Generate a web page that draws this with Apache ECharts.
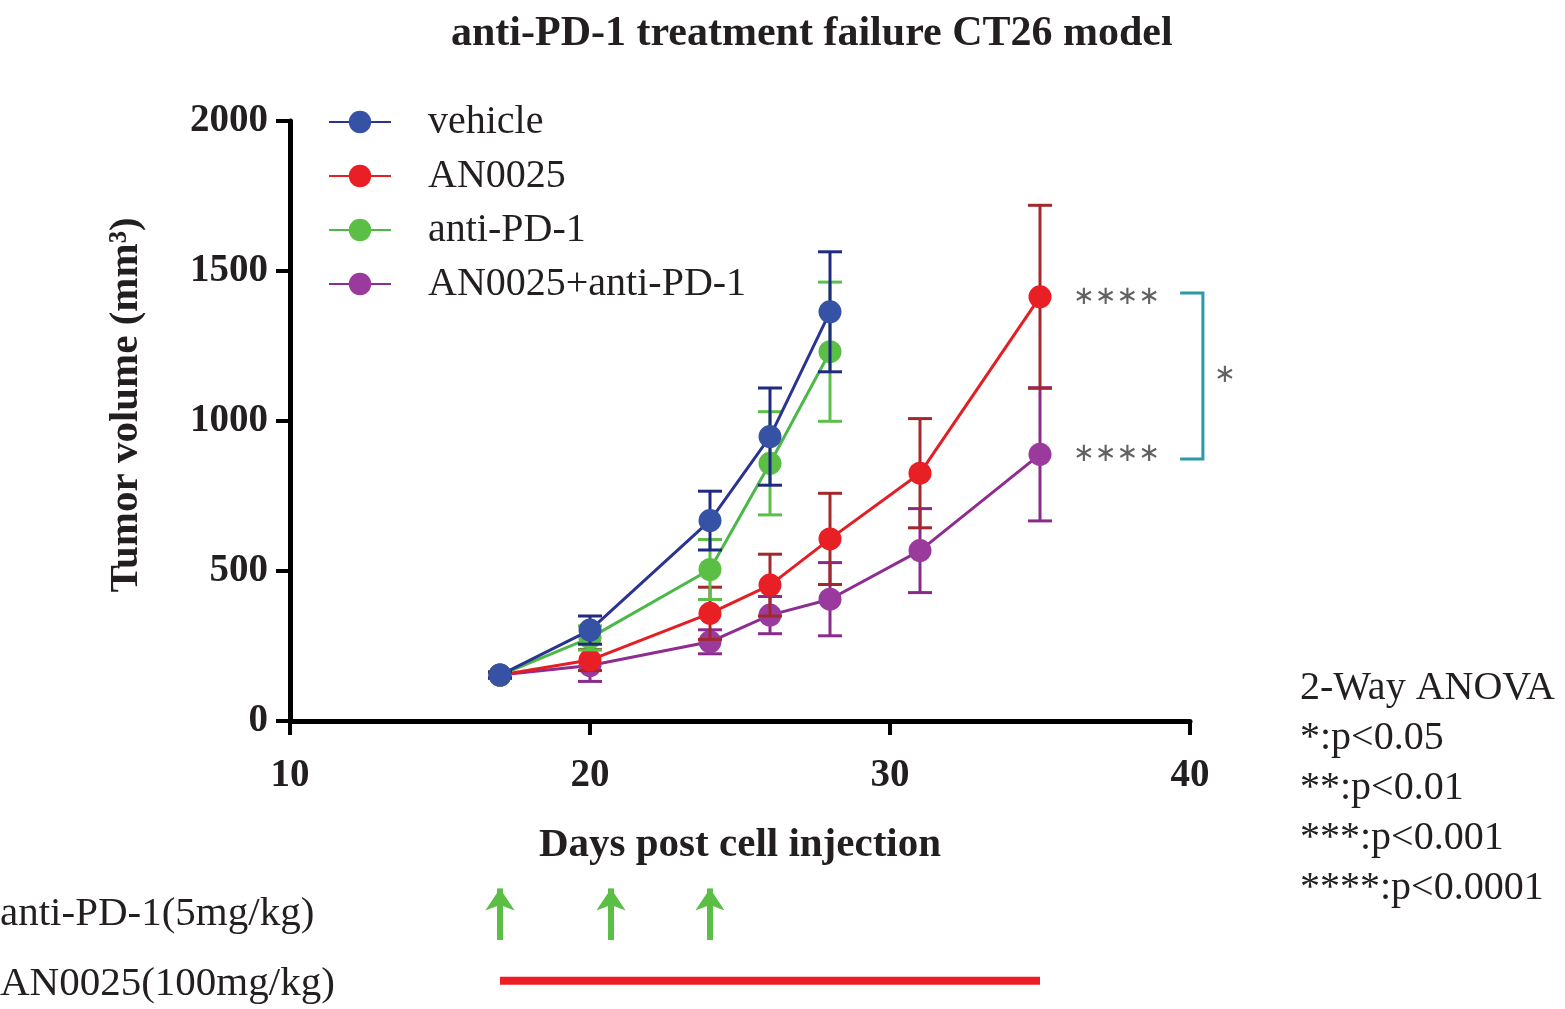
<!DOCTYPE html>
<html><head><meta charset="utf-8">
<script src="https://cdn.jsdelivr.net/npm/echarts@6/dist/echarts.min.js"></script>
<style>html,body{margin:0;padding:0;background:#fff}#c{width:1565px;height:1009px}</style>
</head><body><div id="c"></div>
<script>
const SERIF = '"Liberation Serif","Times New Roman",serif';
const TXT = '#231f20';
const seriesNames = ['vehicle','AN0025','anti-PD-1','AN0025+anti-PD-1'];
const daysShort = [17,20,24,26,28];
const daysLong = [17,20,24,26,28,31,35];
const vehicleMean = [153,303,668,948,1364];
const vehicleSD = [10,47,98,162,200];
const an0025Mean = [153,203,359,453,607,826,1414];
const an0025SD = [10,35,87,103,152,182,305];
const antiPD1Mean = [153,277,505,859,1231];
const antiPD1SD = [10,40,100,172,232];
const comboMean = [153,185,264,353,406,568,889];
const comboSD = [10,53,40,62,122,140,222];
const xTicks = [10,20,30,40];
const yTicks = [0,500,1000,1500,2000];
const arrowDays = [17,20.7,24];
const an0025Period = [17,35];
const stars = [[36.1,1414,'∗∗∗∗'],[36.1,889,'∗∗∗∗']];
const bracket = [39.67,40.43,1427,873];
const bracketLabel = [40.8,1153,'∗'];
const anovaLines = ['2-Way ANOVA','*:p<0.05','**:p<0.01','***:p<0.001','****:p<0.0001'];

const lineColors = ['#2b3490','#e31e24','#4cb848','#8e2c8f'];
const markerColors = ['#3652a5','#e81f25','#5bbf46','#9a3a9c'];
const errColors = ['#1f2a80','#a3282c','#5cbf4a','#8a2b8c'];

function pairs(days, vals){ return days.map((d,i)=>[d, vals[i]]); }
function errData(days, m, sd){ return days.map((d,i)=>[d, m[i]-sd[i], m[i]+sd[i]]); }
function errRender(color){
  return function(params, api){
    const x = api.value(0), lo = api.value(1), hi = api.value(2);
    const a = api.coord([x, hi]), b = api.coord([x, lo]);
    const w = 12, st = {stroke: color, lineWidth: 3};
    return {type:'group', children:[
      {type:'line', shape:{x1:a[0],y1:a[1],x2:b[0],y2:b[1]}, style:st},
      {type:'line', shape:{x1:a[0]-w,y1:a[1],x2:a[0]+w,y2:a[1]}, style:st},
      {type:'line', shape:{x1:b[0]-w,y1:b[1],x2:b[0]+w,y2:b[1]}, style:st}
    ]};
  };
}
const groups = [
  [daysShort, vehicleMean, vehicleSD],
  [daysLong, an0025Mean, an0025SD],
  [daysShort, antiPD1Mean, antiPD1SD],
  [daysLong, comboMean, comboSD]
];
const zOrder = [8,6,7,5];
const series = [];
groups.forEach((g,i)=>{
  series.push({
    name: seriesNames[i]+' err', type:'custom', xAxisIndex:0, yAxisIndex:0,
    renderItem: errRender(errColors[i]), data: errData(g[0],g[1],g[2]),
    encode:{x:0,y:[1,2]}, z: zOrder[i], silent:true
  });
  series.push({
    name: seriesNames[i], type:'line', xAxisIndex:0, yAxisIndex:0,
    data: pairs(g[0], g[1]), symbol:'circle', symbolSize:23,
    lineStyle:{color: lineColors[i], width:3},
    itemStyle:{color: markerColors[i]}, z: zOrder[i]+0.5, animation:false
  });
});
const starLabel = {show:true, position:'right', distance:0, fontFamily:'"DejaVu Sans",sans-serif', fontSize:26, color:'#3a3a3a', verticalAlign:'middle'};
// significance stars
series.push({
  type:'scatter', xAxisIndex:0, yAxisIndex:0, symbolSize:0, silent:true, z:10, clip:false,
  data: stars.concat([bracketLabel]).map(s=>({value:[s[0],s[1]], label:{formatter:s[2]}})),
  label: starLabel
});
// bracket
series.push({
  type:'custom', xAxisIndex:0, yAxisIndex:0, silent:true, z:10, clip:false,
  data:[bracket],
  renderItem: function(p, api){
    const a = api.coord([api.value(0), api.value(2)]);
    const b = api.coord([api.value(1), api.value(3)]);
    return {type:'polyline', shape:{points:[[a[0],a[1]],[b[0],a[1]],[b[0],b[1]],[a[0],b[1]]]}, style:{stroke:'#2a9aa8', lineWidth:3, fill:null}};
  },
  encode:{x:[0,1], y:[2,3]}
});
// treatment arrows
series.push({
  type:'lines', coordinateSystem:'cartesian2d', xAxisIndex:1, yAxisIndex:1, silent:true,
  symbol:['none','arrow'], symbolSize:[0,22],
  lineStyle:{color:'#5bbf46', width:6, opacity:1},
  data: arrowDays.map(d=>({coords:[[d,5],[d,9.3]]}))
});
series.push({
  type:'line', xAxisIndex:1, yAxisIndex:1, silent:true, symbol:'none',
  lineStyle:{color:'#ee1c25', width:8},
  data: an0025Period.map(d=>[d,1.6])
});

const axisLbl = {fontFamily:SERIF, fontWeight:'bold', fontSize:39, color:TXT};
const option = {
  animation:false,
  backgroundColor:'#fff',
  title:{text:'anti-PD-1 treatment failure CT26 model', left:446, top:8,
    textStyle:{fontFamily:SERIF, fontWeight:'bold', fontSize:42, color:TXT}},
  legend:{
    data: seriesNames, orient:'vertical', left:323, top:97,
    itemWidth:62, itemHeight:28, itemGap:14,
    textStyle:{fontFamily:SERIF, fontSize:40, color:TXT, padding:[0,0,0,32]}
  },
  grid:[
    {left:290, right:375, top:121, bottom:288},
    {left:290, right:375, top:880, bottom:9}
  ],
  xAxis:[
    {type:'value', gridIndex:0, min:10, max:40, interval:10,
     name:'Days post cell injection', nameLocation:'middle', nameGap:104,
     nameTextStyle:{fontFamily:SERIF, fontWeight:'bold', fontSize:41, color:TXT},
     axisLine:{lineStyle:{color:'#000', width:5}},
     axisTick:{length:14, lineStyle:{color:'#000', width:4}},
     axisLabel:Object.assign({margin:35, formatter: v => String(v)}, axisLbl),
     splitLine:{show:false}},
    {type:'value', gridIndex:1, min:10, max:40, show:false}
  ],
  yAxis:[
    {type:'value', gridIndex:0, min:0, max:2000, interval:500,
     name:'Tumor volume (mm³)', nameLocation:'middle', nameGap:143, nameRotate:90,
     nameTextStyle:{fontFamily:SERIF, fontWeight:'bold', fontSize:41, color:TXT, padding:[0,0,0,32]},
     axisLine:{show:true, lineStyle:{color:'#000', width:5}},
     axisTick:{show:true, length:14, lineStyle:{color:'#000', width:4}},
     axisLabel:Object.assign({margin:22, formatter: v => String(v)}, axisLbl),
     splitLine:{show:false}},
    {type:'value', gridIndex:1, min:0, max:10, show:false}
  ],
  graphic:[
    ...anovaLines.map((t,i)=>({type:'text', left:1300, top:668+i*50,
      style:{text:t, font:'40px '+SERIF, fill:TXT}})),
    {type:'text', left:0, top:894, style:{text:'anti-PD-1(5mg/kg)', font:'41px '+SERIF, fill:TXT}},
    {type:'text', left:0, top:964, style:{text:'AN0025(100mg/kg)', font:'41px '+SERIF, fill:TXT}}
  ],
  series: series
};
const chart = echarts.init(document.getElementById('c'), null, {renderer:'canvas'});
chart.setOption(option);
</script></body></html>
